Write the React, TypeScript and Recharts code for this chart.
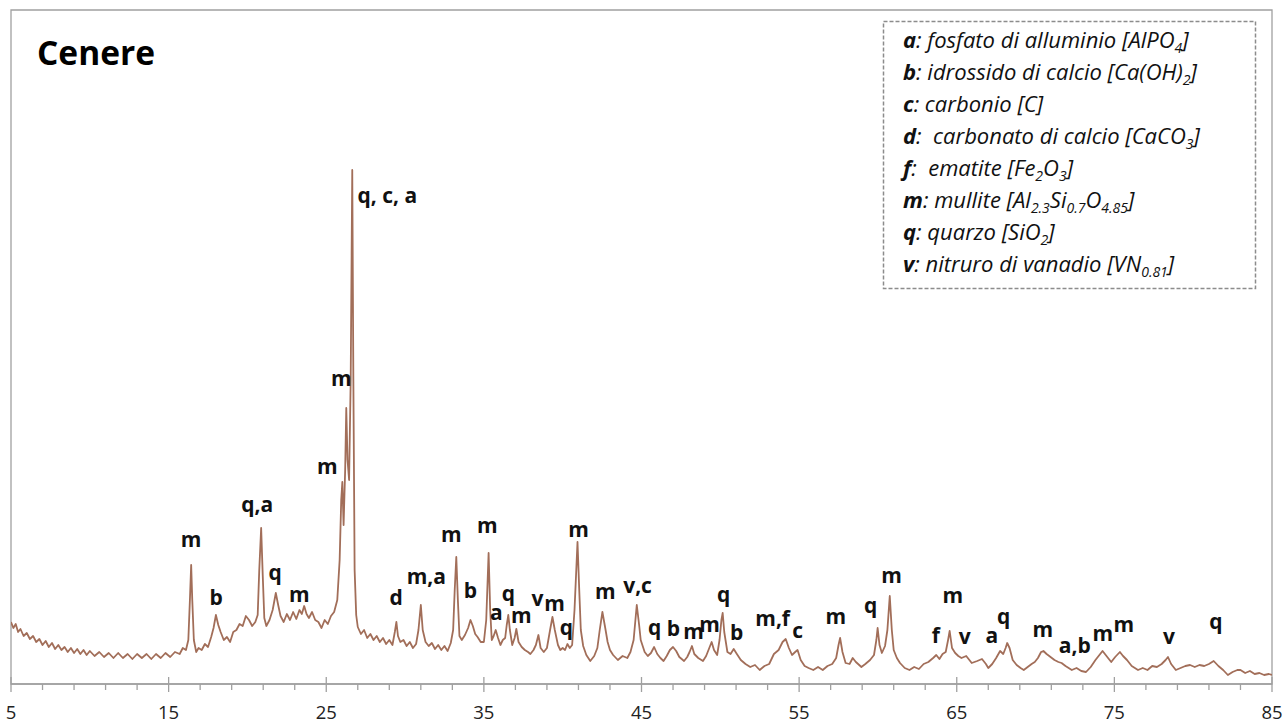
import React from 'react';
import { ComposedChart, Line, XAxis, YAxis, Scatter, ReferenceArea } from 'recharts';

const FONT = "'Open Sans', 'Noto Sans', sans-serif";

// 2θ (degrees)
const twoTheta = [
  5.0, 5.15, 5.3, 5.45, 5.6, 5.8, 6.0, 6.2, 6.4, 6.6, 6.8, 7.0, 7.2, 7.4, 7.6, 7.8, 8.0, 8.2, 8.4, 8.6, 8.8,
  9.0, 9.2, 9.4, 9.6, 9.8, 10.0, 10.3, 10.6, 10.9, 11.2, 11.5, 11.8, 12.1, 12.4, 12.7, 13.0, 13.3, 13.6, 13.9,
  14.2, 14.5, 14.8, 15.1, 15.4, 15.7, 15.9, 16.1, 16.25, 16.35, 16.43, 16.5, 16.6, 16.75, 16.9, 17.1, 17.3,
  17.5, 17.7, 17.85, 18.0, 18.15, 18.3, 18.5, 18.7, 18.9, 19.1, 19.3, 19.5, 19.7, 19.9, 20.1, 20.3, 20.5,
  20.65, 20.75, 20.87, 20.97, 21.07, 21.2, 21.4, 21.6, 21.8, 21.95, 22.1, 22.3, 22.5, 22.7, 22.9, 23.1, 23.3,
  23.45, 23.6, 23.75, 23.9, 24.1, 24.3, 24.5, 24.7, 24.9, 25.1, 25.3, 25.5, 25.7, 25.85, 25.95, 26.02, 26.1,
  26.2, 26.27, 26.35, 26.45, 26.55, 26.65, 26.72, 26.8, 26.9, 27.0, 27.2, 27.4, 27.6, 27.8, 28.0, 28.2, 28.4,
  28.6, 28.8, 29.0, 29.2, 29.35, 29.45, 29.55, 29.7, 29.9, 30.1, 30.3, 30.5, 30.7, 30.85, 31.0, 31.12, 31.3,
  31.5, 31.7, 31.9, 32.1, 32.3, 32.5, 32.7, 32.9, 33.05, 33.15, 33.25, 33.35, 33.45, 33.6, 33.8, 34.0, 34.15,
  34.3, 34.45, 34.6, 34.8, 35.0, 35.15, 35.3, 35.4, 35.5, 35.62, 35.75, 35.9, 36.05, 36.2, 36.35, 36.45, 36.55,
  36.65, 36.8, 36.95, 37.06, 37.2, 37.4, 37.6, 37.8, 37.95, 38.15, 38.3, 38.46, 38.6, 38.8, 39.0, 39.2, 39.35,
  39.5, 39.7, 39.85, 40.0, 40.15, 40.3, 40.45, 40.6, 40.75, 40.94, 41.05, 41.15, 41.3, 41.5, 41.75, 42.0, 42.2,
  42.35, 42.52, 42.7, 42.85, 43.0, 43.2, 43.5, 43.8, 44.1, 44.3, 44.5, 44.7, 44.85, 44.95, 45.2, 45.4, 45.6,
  45.8, 46.0, 46.2, 46.4, 46.6, 46.8, 47.0, 47.2, 47.4, 47.7, 47.9, 48.05, 48.2, 48.35, 48.6, 48.9, 49.1, 49.3,
  49.45, 49.6, 49.8, 49.95, 50.07, 50.15, 50.25, 50.45, 50.65, 50.85, 51.05, 51.3, 51.6, 51.9, 52.2, 52.5,
  52.8, 53.1, 53.4, 53.7, 53.95, 54.15, 54.35, 54.55, 54.75, 54.9, 55.1, 55.35, 55.6, 55.9, 56.2, 56.5, 56.8,
  57.1, 57.35, 57.5, 57.6, 57.75, 57.95, 58.2, 58.4, 58.6, 58.95, 59.2, 59.5, 59.75, 59.9, 59.98, 60.1, 60.25,
  60.45, 60.6, 60.75, 60.88, 61.0, 61.2, 61.4, 61.7, 62.0, 62.3, 62.6, 62.9, 63.2, 63.5, 63.7, 63.9, 64.1,
  64.3, 64.45, 64.55, 64.7, 64.9, 65.1, 65.3, 65.6, 65.95, 66.3, 66.6, 66.85, 67.0, 67.25, 67.5, 67.75, 67.95,
  68.1, 68.2, 68.35, 68.55, 68.8, 69.05, 69.25, 69.5, 69.75, 69.95, 70.15, 70.35, 70.5, 70.7, 70.95, 71.2,
  71.45, 71.65, 71.9, 72.1, 72.3, 72.6, 72.9, 73.2, 73.5, 73.8, 74.05, 74.25, 74.5, 74.8, 75.05, 75.35, 75.55,
  75.8, 76.1, 76.5, 76.8, 77.1, 77.4, 77.7, 78.0, 78.25, 78.4, 78.6, 78.9, 79.2, 79.5, 79.8, 80.1, 80.4, 80.7,
  81.0, 81.3, 81.6, 81.9, 82.2, 82.5, 82.8, 83.0, 83.3, 83.6, 83.9, 84.2, 84.5, 84.8, 85.0,
];

// intensity (arbitrary units)
const intensity = [
  62, 56, 60, 52, 55, 48, 51, 45, 48, 42, 45, 39, 43, 37, 41, 35, 39, 34, 37, 32, 36,
  31, 35, 30, 34, 29, 33, 28, 32, 27, 31, 26, 31, 26, 30, 25, 30, 26, 30, 25,
  30, 26, 31, 27, 32, 30, 36, 34, 44, 84, 119, 84, 44, 32, 36, 34, 40,
  37, 47, 56, 69, 59, 52, 44, 47, 42, 52, 54, 60, 58, 68, 64, 58, 62,
  69, 114, 156, 109, 66, 58, 64, 74, 91, 79, 68, 62, 70, 64, 72, 65, 74,
  70, 78, 70, 66, 72, 64, 62, 56, 64, 60, 68, 72, 84, 124, 184, 202, 159,
  214, 276, 224, 204, 304, 514, 304, 114, 69, 57, 50, 54, 46, 50, 44, 48, 42,
  46, 40, 44, 39, 52, 62, 48, 42, 44, 38, 42, 36, 40, 54, 79, 54, 42,
  38, 41, 35, 39, 34, 38, 33, 41, 54, 94, 127, 84, 48, 44, 49, 56, 64,
  58, 50, 47, 42, 42, 64, 131, 74, 44, 48, 54, 46, 39, 44, 46, 59, 69,
  54, 39, 46, 55, 42, 37, 34, 32, 30, 34, 39, 49, 36, 32, 36, 54, 67,
  54, 39, 34, 36, 34, 40, 36, 39, 74, 142, 94, 54, 38, 29, 23, 28, 36,
  54, 72, 56, 42, 34, 29, 24, 28, 26, 32, 44, 79, 59, 44, 32, 28, 31,
  37, 30, 26, 23, 28, 34, 37, 33, 27, 23, 27, 32, 38, 30, 26, 23, 28, 36,
  42, 34, 29, 44, 64, 71, 52, 32, 30, 35, 30, 24, 20, 17, 19, 14,
  18, 20, 30, 34, 42, 45, 36, 29, 32, 34, 24, 18, 16, 14, 17, 14, 18,
  20, 26, 39, 46, 32, 21, 20, 26, 22, 17, 20, 24, 29, 44, 56, 39, 31,
  38, 54, 88, 54, 34, 26, 21, 16, 14, 17, 15, 20, 22, 26, 29, 25, 30,
  32, 44, 53, 36, 31, 28, 26, 28, 21, 23, 25, 20, 16, 20, 26, 33, 30,
  36, 41, 36, 24, 19, 16, 14, 17, 20, 22, 26, 32, 33, 30, 27, 24,
  22, 21, 18, 16, 14, 16, 13, 12, 17, 24, 29, 33, 28, 22, 27, 32, 28,
  24, 18, 14, 16, 14, 18, 17, 20, 24, 27, 20, 14, 16, 18, 19, 17, 19, 18,
  20, 23, 18, 14, 9, 12, 14, 14, 11, 13, 10, 11, 9, 10, 9,
];

// peak annotations
const labelTheta = [
  16.43, 18.02, 20.62, 21.76, 23.29, 25.06, 25.95, 28.87, 29.44, 31.35, 32.94, 34.14, 35.22, 35.79,
  36.56, 37.38, 38.4, 39.48, 40.24, 41.0, 42.71, 44.75, 45.83, 47.03, 48.3, 49.32, 50.21, 51.03,
  53.32, 54.9, 57.32, 59.54, 60.87, 63.67, 64.75, 65.51, 67.22, 67.98, 70.46, 72.49, 74.27, 75.6,
  78.46, 81.44,
];
const labelHeight = [
  137, 79, 172, 104, 82, 210, 298, 481, 79, 100, 142, 86, 151, 64,
  83, 61, 78, 73, 49, 147, 85, 91, 49, 48, 45, 52, 82, 44,
  58, 46, 60, 71, 101, 41, 81, 40, 41, 60, 47, 31, 43, 52,
  40, 55,
];
const labelText = [
  'm', 'b', 'q,a', 'q', 'm', 'm', 'm', 'q, c, a', 'd', 'm,a', 'm', 'b', 'm', 'a',
  'q', 'm', 'v', 'm', 'q', 'm', 'm', 'v,c', 'q', 'b', 'm', 'm', 'q', 'b',
  'm,f', 'c', 'm', 'q', 'm', 'f', 'm', 'v', 'a', 'q', 'm', 'a,b', 'm', 'm',
  'v', 'q',
];

const xTicks = [
  5, 7, 9, 11, 13, 15, 17, 19, 21, 23, 25, 27, 29, 31, 33, 35, 37, 39, 41, 43, 45,
  47, 49, 51, 53, 55, 57, 59, 61, 63, 65, 67, 69, 71, 73, 75, 77, 79, 81, 83, 85,
];
const majorTicks = [5, 15, 25, 35, 45, 55, 65, 75, 85];

const legendKeys = ['a', 'b', 'c', 'd', 'f', 'm', 'q', 'v'];
const legendParts: [string, boolean][][] = [
  [[': fosfato di alluminio [AlPO', false], ['4', true], [']', false]],
  [[': idrossido di calcio [Ca(OH)', false], ['2', true], [']', false]],
  [[': carbonio [C]', false]],
  [[':  carbonato di calcio [CaCO', false], ['3', true], [']', false]],
  [[':  ematite [Fe', false], ['2', true], ['O', false], ['3', true], [']', false]],
  [[': mullite [Al', false], ['2.3', true], ['Si', false], ['0.7', true], ['O', false], ['4.85', true], [']', false]],
  [[': quarzo [SiO', false], ['2', true], [']', false]],
  [[': nitruro di vanadio [VN', false], ['0.81', true], [']', false]],
];

const spectrum = twoTheta.map((x, i) => ({ x, v: intensity[i] }));
const labels = labelTheta.map((x, i) => ({ x, v: labelHeight[i], text: labelText[i] }));

const AXIS = '#a0a0a0';
const LEGEND_SIZE = 22;
const SUB_SIZE = 14;

function XTick(props: any) {
  const { x, y, payload } = props;
  const val = payload.value;
  const major = majorTicks.includes(val);
  return (
    <g>
      <line x1={x} x2={x} y1={major ? y - 7 : y} y2={y + (major ? 8 : 6)} stroke={AXIS} strokeWidth={1.3} />
      {major && (
        <text x={x} y={y + 35} textAnchor="middle" fontFamily={FONT} fontSize={18.5} fill="#222">
          {val}
        </text>
      )}
    </g>
  );
}

function PeakLabel(props: any) {
  const { cx, cy, payload } = props;
  return (
    <text x={cx} y={cy} textAnchor="middle" fontFamily={FONT} fontWeight={700} fontSize={21} fill="#111">
      {payload.text}
    </text>
  );
}

function LegendLine({ idx }: { idx: number }) {
  const parts = legendParts[idx];
  let prevSub = false;
  return (
    <text
      x={903}
      y={48 + idx * 32}
      fontFamily={FONT}
      fontStyle="italic"
      fontSize={LEGEND_SIZE}
      fill="#111"
      style={{ whiteSpace: 'pre' }}
    >
      <tspan fontWeight={700}>{legendKeys[idx]}</tspan>
      {parts.map(([t, sub], i) => {
        const dy = (sub ? 5 : 0) - (prevSub ? 5 : 0);
        prevSub = sub;
        return (
          <tspan key={i} dy={dy} fontSize={sub ? SUB_SIZE : LEGEND_SIZE}>
            {t}
          </tspan>
        );
      })}
    </text>
  );
}

export default function App() {
  return (
    <div style={{ position: 'relative', width: 1283, height: 724, background: '#fff' }}>
      <style>{'body{margin:0;}'}</style>
      <ComposedChart
        width={1283}
        height={724}
        data={spectrum}
        margin={{ top: 10, right: 11, bottom: 0, left: 11 }}
      >
        <ReferenceArea x1={5} x2={85} y1={0} y2={674} fill="none" stroke={AXIS} strokeWidth={1.3} />
        <XAxis
          dataKey="x"
          type="number"
          domain={[5, 85]}
          ticks={xTicks}
          interval={0}
          height={40}
          tickSize={0}
          tickMargin={0}
          tickLine={false}
          axisLine={{ stroke: AXIS, strokeWidth: 1.5 }}
          tick={<XTick />}
          allowDataOverflow
        />
        <YAxis hide type="number" domain={[0, 674]} allowDataOverflow />
        <Line
          data={spectrum}
          dataKey="v"
          stroke="#a26e59"
          strokeWidth={1.8}
          strokeLinejoin="round"
          dot={false}
          activeDot={false}
          isAnimationActive={false}
        />
        <Scatter data={labels} dataKey="v" shape={<PeakLabel />} isAnimationActive={false} />
      </ComposedChart>
      <svg
        width={1283}
        height={724}
        style={{ position: 'absolute', left: 0, top: 0, pointerEvents: 'none' }}
      >
        <text x={37} y={65} fontFamily={FONT} fontWeight={700} fontSize={33.5} fill="#000">
          Cenere
        </text>
        <rect x={883.5} y={21.5} width={372} height={267} fill="#fff" stroke="#8c8c8c" strokeWidth={1.5} strokeDasharray="4 2" />
        {legendKeys.map((k, i) => (
          <LegendLine key={k} idx={i} />
        ))}
      </svg>
    </div>
  );
}
